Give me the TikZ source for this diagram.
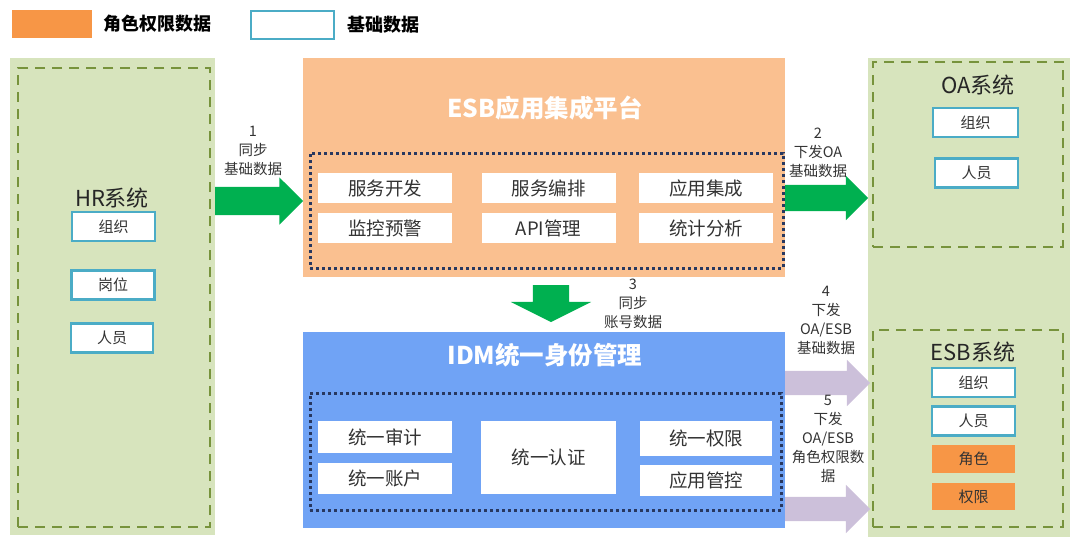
\documentclass[tikz,border=0pt]{standalone}
\usepackage{fontspec}
\setmainfont{Noto Sans CJK SC}
\usepackage{xcolor}
\usepackage{tikz}
\usetikzlibrary{positioning,shapes.arrows}
\definecolor{roleorange}{RGB}{247,150,70}
\definecolor{baseteal}{RGB}{75,172,198}
\definecolor{sysgreen}{RGB}{215,228,189}
\definecolor{dashgreen}{RGB}{119,147,60}
\definecolor{esborange}{RGB}{250,192,144}
\definecolor{idmblue}{RGB}{112,163,245}
\definecolor{syncgreen}{RGB}{0,176,80}
\definecolor{pushlilac}{RGB}{204,192,218}
\definecolor{dotnavy}{RGB}{40,56,96}
\definecolor{labelgray}{RGB}{51,51,51}
\newcommand{\fsz}[1]{\fontsize{#1}{#1}\selectfont}

\begin{document}
\begin{tikzpicture}[x=1pt,y=-1pt, every node/.style={inner sep=0pt,outer sep=0pt},
    sysbg/.style={fill=sysgreen,anchor=north west},
    sysframe/.style={draw=dashgreen,line width=2.6pt,dash pattern=on 10pt off 7pt,anchor=north west},
    basebox/.style={draw=baseteal,line width=2.4pt,fill=white,minimum width=83pt,minimum height=29pt,text=labelgray,font=\fsz{15}},
    rolebox/.style={fill=roleorange,minimum width=83pt,minimum height=28pt,text=labelgray,font=\fsz{15}},
    modbox/.style={fill=white,minimum width=134pt,minimum height=30pt,text=labelgray,font=\fsz{18.5}},
    dotframe/.style={draw=dotnavy,line width=3pt,dash pattern=on 3pt off 3pt,anchor=north west},
    platetitle/.style={text=white,font=\bfseries\fsz{24.5}},
    systitle/.style={text=black!85,font=\fsz{22}},
    flowlabel/.style={align=center,text=labelgray,font=\fontsize{14.5}{19}\selectfont},
    fatarrow/.style={single arrow,draw=none,inner xsep=0pt,anchor=tail}
  ]
  \useasboundingbox (0,0) rectangle (1080,546);
  \node[fill=roleorange,minimum width=80pt,minimum height=28pt,anchor=north west] (keyrole) at (12,10) {};
  \node[right=11pt of keyrole,font=\bfseries\fsz{18}] (keyroletext) {角色权限数据};
  \node[draw=baseteal,line width=2.6pt,minimum width=83pt,minimum height=28pt,anchor=north west] (keybase) at (251,11) {};
  \node[right=13pt of keybase,font=\bfseries\fsz{18}] (keybasetext) {基础数据};

  \node[sysbg,minimum width=205pt,minimum height=477pt] (hrbg) at (10,58) {};
  \node[sysframe,minimum width=192pt,minimum height=459pt] (hrframe) at (18,68) {};
  \node[systitle] (hrtitle) at (112,198) {HR系统};
  \node[basebox] (hrorg) at (113.5,226.5) {组织};
  \node[basebox] (hrpost) at (113,285) {岗位};
  \node[basebox,minimum width=82pt] (hrstaff) at (112,338) {人员};

  \node[fill=esborange,minimum width=482pt,minimum height=219pt,anchor=north west] (esb) at (303,58) {};
  \node[platetitle] (esbtitle) at (545,108) {ESB应用集成平台};
  \node[dotframe,minimum width=473pt,minimum height=115pt] (esbcore) at (310,153) {};
  \node[modbox] (svcdev) at (385,188) {服务开发};
  \node[modbox] (svcorch) at (548.5,188) {服务编排};
  \node[modbox] (appint) at (706,188) {应用集成};
  \node[modbox] (monitor) at (385,228) {监控预警};
  \node[modbox] (apimgr) at (548.5,228) {API管理};
  \node[modbox] (stats) at (706,228) {统计分析};

  \node[fill=idmblue,minimum width=482pt,minimum height=196pt,anchor=north west] (idm) at (303,332) {};
  \node[platetitle] (idmtitle) at (545,355) {IDM统一身份管理};
  \node[dotframe,minimum width=471pt,minimum height=117pt] (idmcore) at (310,393) {};
  \node[modbox,minimum height=32pt] (audit) at (385,437) {统一审计};
  \node[modbox,minimum height=31pt] (account) at (385,478.5) {统一账户};
  \node[modbox,minimum width=135pt,minimum height=73pt] (authn) at (548.5,457.5) {统一认证};
  \node[modbox,minimum width=132pt,minimum height=35pt] (perm) at (706,438) {统一权限};
  \node[modbox,minimum width=132pt,minimum height=31pt] (appctl) at (706,480) {应用管控};

  \node[sysbg,minimum width=202pt,minimum height=479pt] (rightbg) at (868,58) {};
  \node[sysframe,minimum width=190pt,minimum height=185pt] (oaframe) at (873,62) {};
  \node[systitle] (oatitle) at (978,85) {OA系统};
  \node[basebox,minimum width=85pt] (oaorg) at (975.5,122.5) {组织};
  \node[basebox] (oastaff) at (976.5,173) {人员};
  \node[sysframe,minimum width=190pt,minimum height=197pt] (esbframe) at (873,330) {};
  \node[systitle] (esbsystitle) at (973,352) {ESB系统};
  \node[basebox] (esborg) at (973.5,382.5) {组织};
  \node[basebox] (esbstaff) at (973.5,421) {人员};
  \node[rolebox] (esbrole) at (973.5,459) {角色};
  \node[rolebox,minimum height=27pt] (esbperm) at (973.5,496.5) {权限};

  \node[fatarrow,fill=syncgreen,inner ysep=14pt,minimum width=47pt,single arrow head extend=9.5pt,minimum height=88pt] (sync1) at (hrbg.east |- 0,201) {};
  \node[fatarrow,fill=syncgreen,inner ysep=13pt,minimum width=44pt,single arrow head extend=9pt,minimum height=83pt] (push2) at (esb.east |- 0,198) {};
  \node[fatarrow,fill=syncgreen,inner xsep=18pt,inner ysep=0pt,minimum width=80pt,single arrow head extend=22pt,single arrow tip angle=127,minimum height=37pt,shape border rotate=270] (sync3) at (551,285) {};
  \node[fatarrow,fill=pushlilac,inner ysep=12pt,minimum width=46pt,single arrow head extend=11pt,minimum height=85pt] (push4) at (idm.east |- 0,383) {};
  \node[fatarrow,fill=pushlilac,inner ysep=12pt,minimum width=48pt,single arrow head extend=12pt,minimum height=85pt] (push5) at (idm.east |- 0,509) {};

  \node[flowlabel] (lbl1) at (253,151) {1\\同步\\基础数据};
  \node[flowlabel] (lbl2) at (818,153) {2\\下发OA\\基础数据};
  \node[flowlabel] (lbl3) at (633,304) {3\\同步\\账号数据};
  \node[flowlabel] (lbl4) at (826,320) {4\\下发\\OA/ESB\\基础数据};
  \node[flowlabel] (lbl5) at (828,439) {5\\下发\\OA/ESB\\角色权限数\\据};
\end{tikzpicture}
\end{document}
